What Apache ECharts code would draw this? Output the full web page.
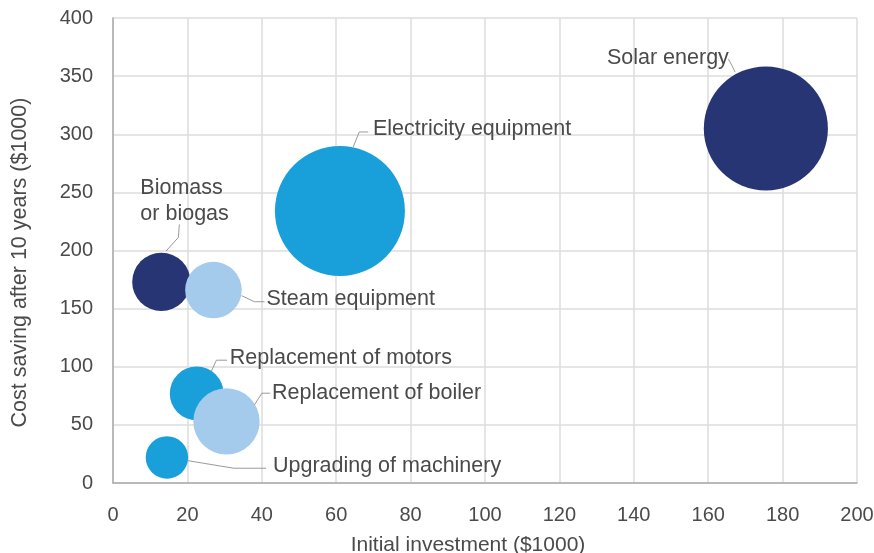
<!DOCTYPE html>
<html>
<head>
<meta charset="utf-8">
<script src="https://cdn.jsdelivr.net/npm/echarts@6/dist/echarts.min.js"></script>
<style>
  html, body { margin: 0; padding: 0; background: #fff; }
  #chart { width: 874px; height: 553px; }
</style>
</head>
<body>
<div id="chart"></div>
<script>
// Energy-saving measures: investment vs. saving, bubble area = relative scale
const measures = ['Biomass\nor biogas', 'Steam equipment', 'Replacement of motors',
  'Replacement of boiler', 'Upgrading of machinery', 'Electricity equipment', 'Solar energy'];
const investment = [13, 27, 22.5, 30.5, 14.5, 61, 175.5];   // $1000
const saving = [173, 166, 77, 53, 22, 234, 305];          // $1000 after 10 years
const scale = [34, 32, 29, 44, 18, 169, 154];             // bubble area value
const shade = ['dark', 'light', 'mid', 'light', 'mid', 'mid', 'dark'];

const xTicks = { min: 0, max: 200, step: 20 };
const yTicks = { min: 0, max: 400, step: 50 };

const palette = { dark: '#283574', mid: '#199fda', light: '#a4cbec' };
const FONT = "'Liberation Sans', Arial, Helvetica, sans-serif";
const TEXT = '#4a4a4a';

// label placement relative to each bubble centre (px): text anchor + leader line
const guides = [
  { dx: -21, dy: -81, align: 'left', line: [[4.7, -30.8], [17, -44.5], [18, -57.5]] },
  { dx: 53, dy: 9, align: 'left', line: [[28.3, 5.7], [41, 11.7], [51, 11.7]] },
  { dx: 33, dy: -35, align: 'left', line: [[14.7, -22.3], [19.7, -33.3], [30.3, -33.3]] },
  { dx: 45.5, dy: -28.5, align: 'left', line: [[28, -16.5], [35.4, -28.2], [43.7, -28.2]] },
  { dx: 106, dy: 8.5, align: 'left', line: [[20.8, 3.2], [66.8, 10.8], [99.2, 10.8]] },
  { dx: 33, dy: -82, align: 'left', line: [[13.3, -64.1], [19.3, -79], [28.3, -79]] },
  { dx: -37, dy: -70, align: 'right', line: [[-30.7, -56.3], [-34, -63], [-37.5, -69.5]] }
];

const points = measures.map((name, i) => ({
  name: name,
  value: [investment[i], saving[i], scale[i]],
  itemStyle: { color: palette[shade[i]], opacity: 1 }
}));

const chart = echarts.init(document.getElementById('chart'), null, { renderer: 'canvas' });
chart.setOption({
  animation: false,
  backgroundColor: '#fff',
  textStyle: { fontFamily: FONT },
  grid: { left: 113, right: 17, top: 18, bottom: 70, containLabel: false, outerBoundsMode: 'none' },
  xAxis: {
    type: 'value', min: xTicks.min, max: xTicks.max, interval: xTicks.step,
    name: 'Initial investment ($1000)', nameLocation: 'middle', nameGap: 52,
    nameTextStyle: { fontSize: 21, color: TEXT, fontFamily: FONT, padding: [0, 34, 0, 0] },
    axisLine: { show: true, lineStyle: { color: '#aaaaaa', width: 1.5 } },
    axisTick: { show: false },
    axisLabel: { fontSize: 20, color: TEXT, margin: 22, fontFamily: FONT },
    splitLine: { show: true, lineStyle: { color: '#dddddd', width: 1.5 } }
  },
  yAxis: {
    type: 'value', min: yTicks.min, max: yTicks.max, interval: yTicks.step,
    name: 'Cost saving after 10 years ($1000)', nameLocation: 'middle', nameGap: 82,
    nameTextStyle: { fontSize: 21.5, color: TEXT, fontFamily: FONT, padding: [0, 24, 0, 0] },
    axisLine: { show: true, lineStyle: { color: '#aaaaaa', width: 1.5 } },
    axisTick: { show: false },
    axisLabel: { fontSize: 20, color: TEXT, margin: 20, fontFamily: FONT },
    splitLine: { show: true, lineStyle: { color: '#dddddd', width: 1.5 } }
  },
  series: [{
    type: 'scatter',
    data: points,
    symbol: 'circle',
    symbolSize: v => 10 * Math.sqrt(v[2]),
    label: { show: false },
    emphasis: { disabled: true }
  }, {
    // callout text with elbowed leader lines, anchored on each bubble centre
    type: 'custom',
    silent: true,
    z: 3,
    data: measures.map((n, i) => [investment[i], saving[i]]),
    renderItem: function (params, api) {
      const c = api.coord([api.value(0), api.value(1)]);
      const g = guides[params.dataIndex];
      return {
        type: 'group',
        children: [{
          type: 'polyline',
          shape: { points: g.line.map(p => [c[0] + p[0], c[1] + p[1]]) },
          style: { stroke: '#9a9a9a', lineWidth: 1, fill: null }
        }, {
          type: 'text',
          x: c[0] + g.dx,
          y: c[1] + g.dy,
          style: {
            text: measures[params.dataIndex],
            fill: TEXT, fontSize: 21.5, fontFamily: FONT, lineHeight: 25.5,
            align: g.align, verticalAlign: 'middle'
          }
        }]
      };
    }
  }]
});
</script>
</body>
</html>
